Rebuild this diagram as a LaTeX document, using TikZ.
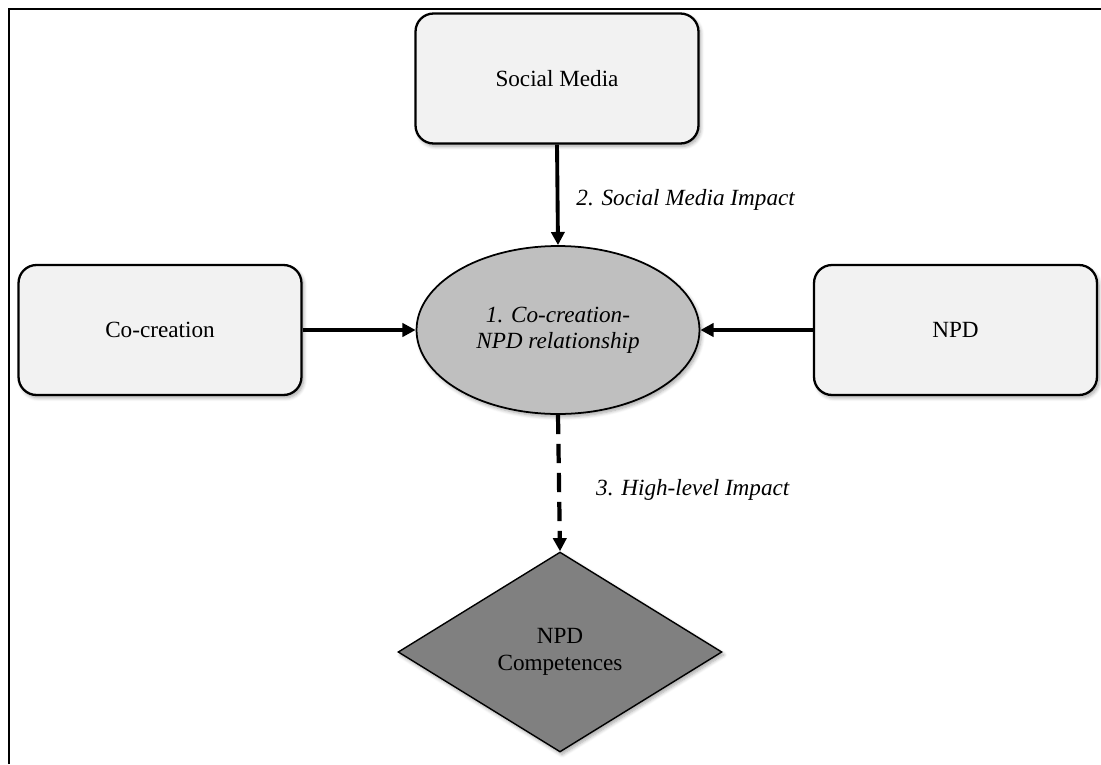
\documentclass[tikz,border=0pt]{standalone}
\usepackage{fontspec}
\setmainfont{Liberation Serif}
\usetikzlibrary{shapes.geometric,arrows.meta,shadows.blur}
\begin{document}
\begin{tikzpicture}[x=0.02cm,y=-0.02cm,
  every node/.style={font=\fontsize{13.2}{15}\selectfont, align=center},
  shad/.style={blur shadow={shadow xshift=1.2pt, shadow yshift=-1.6pt, shadow blur steps=6, shadow opacity=35, shadow blur radius=2pt}},
  boxnode/.style={draw=black, line width=1.3pt, fill=black!5, rounded corners=0.36cm,
    minimum width=5.66cm, minimum height=2.6cm, inner sep=0pt, shad},
  ellnode/.style={ellipse, draw=black, line width=1pt, fill=black!25,
    minimum width=5.66cm, minimum height=3.36cm, inner sep=0pt, shad},
  dianode/.style={diamond, draw=black, line width=0.8pt, fill=black!50,
    minimum width=6.48cm, minimum height=4cm, inner sep=0pt, shad},
  conn/.style={line width=2.2pt, -{Triangle[length=7.5pt,width=7.5pt]}},
  lbl/.style={anchor=west, inner sep=0pt, font=\fontsize{13.2}{15}\selectfont\itshape}
]
\useasboundingbox (0,0) rectangle (1101,764);
\draw[line width=1.5pt] (9,764) -- (9,9) -- (1101,9);

\node[boxnode] (sm) at (557,78.5) {Social Media};
\node[boxnode] (co) at (160,330) {Co-creation};
\node[boxnode] (npd) at (955.5,330) {NPD};
\node[ellnode] (rel) at (558,330) {\itshape 1. Co-creation-\\\itshape NPD relationship};
\node[dianode] (comp) at (560,652) {NPD\\Competences};

\draw[conn] (sm.south) -- node[lbl, pos=0.55, xshift=0.34cm] {2. Social Media Impact} (rel.north);
\draw[conn] (co.east) -- (rel.west);
\draw[conn] (npd.west) -- (rel.east);
\draw[conn, line width=2.4pt, dash pattern=on 11pt off 5.5pt] (rel.south) -- node[lbl, pos=0.55, xshift=0.7cm] {3. High-level Impact} (comp.north);
\end{tikzpicture}
\end{document}
